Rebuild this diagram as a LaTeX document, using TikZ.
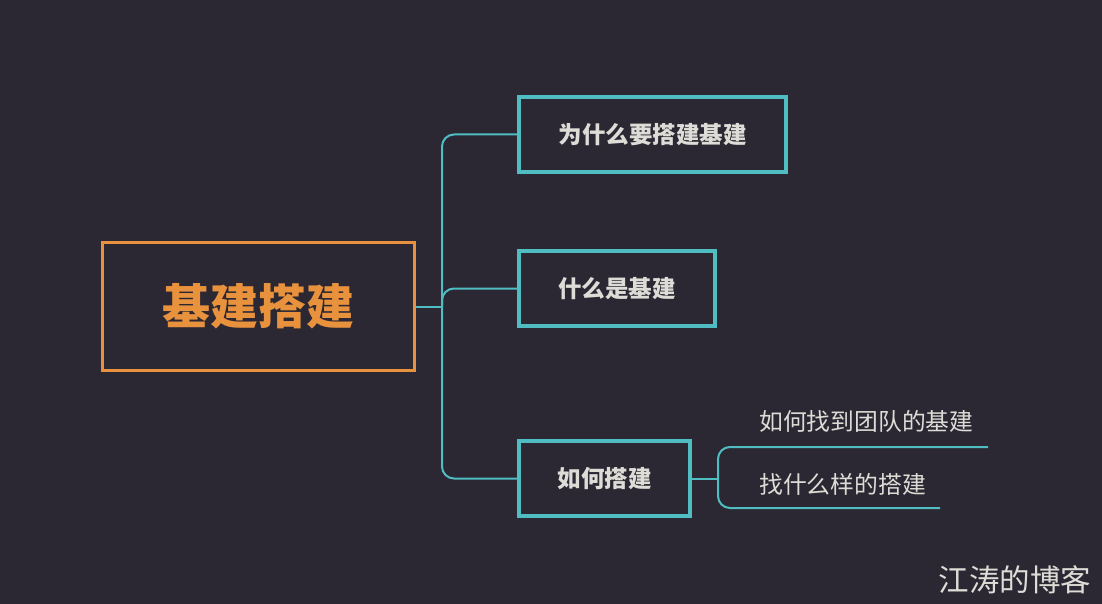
\documentclass[tikz,border=0pt]{standalone}
\usepackage{fontspec}
\setmainfont{Noto Sans CJK SC}
\definecolor{bgc}{RGB}{44,40,51}
\definecolor{teal}{RGB}{79,189,194}
\definecolor{orng}{RGB}{232,146,62}
\definecolor{txtc}{RGB}{222,220,214}
\begin{document}
\begin{tikzpicture}[x=1pt,y=-1pt,
  rootbox/.style={draw=orng, line width=3pt, minimum width=312pt, minimum height=128pt, inner sep=0pt, text=orng, font=\fontsize{48}{52}\selectfont\bfseries},
  topicbox/.style={draw=teal, line width=4.5pt, minimum height=75pt, inner sep=0pt, text=txtc, font=\fontsize{23.5}{27}\selectfont\bfseries},
  subtext/.style={anchor=west, inner sep=0pt, text=txtc, font=\fontsize{23.8}{27}\selectfont},
  conn/.style={draw=teal, line width=2pt, rounded corners=12pt}
]
\fill[bgc] (0,0) rectangle (1102,604);
\useasboundingbox (0,0) rectangle (1102,604);

\node[rootbox] (root) at (258.5,306.5) {基建搭建};
\node[topicbox, minimum width=267pt] (b1) at (652.5,134.5) {为什么要搭建基建};
\node[topicbox, minimum width=196pt] (b2) at (617,288.5) {什么是基建};
\node[topicbox, minimum width=171pt] (b3) at (604.5,478.5) {如何搭建};

\node[subtext] (s1) at (759,421) {如何找到团队的基建};
\node[subtext] (s2) at (759,484) {找什么样的搭建};

\coordinate (tr) at (442,306.5);
\coordinate (s1e) at (988,447);
\coordinate (s2e) at (940,508);
\coordinate (sb) at (718,478.5);

\draw[conn] (root.east) -- (tr);
\draw[conn] (b1.west) -- (442,134.5) -- (442,478.5) -- (b3.west);
\draw[conn] (tr) |- (b2.west);
\draw[conn] (b3.east) -- (sb);
\draw[conn] (s1e) -- (718,447) -- (718,508) -- (s2e);

\node[text=txtc, font=\fontsize{30.5}{34}\selectfont, inner sep=0pt] (wm) at (1015,580) {江涛的博客};
\end{tikzpicture}
\end{document}
